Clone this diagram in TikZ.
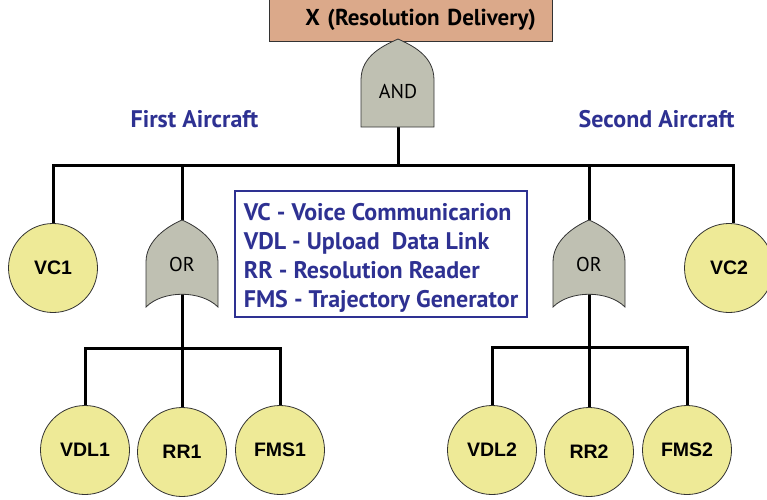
\documentclass[tikz,border=0pt]{standalone}
\usepackage{fontspec}
\setmainfont{PT Sans}
\newfontfamily\arialfont{Liberation Sans}
\definecolor{topfill}{HTML}{DBA98A}
\definecolor{gatefill}{HTML}{BFC0B2}
\definecolor{eventfill}{HTML}{EEEA97}
\definecolor{legblue}{HTML}{2E3192}
\begin{document}
\begin{tikzpicture}[x=1pt,y=-1pt,
  conn/.style={line width=3pt, line join=miter},
  gate/.style={draw=black!80, line width=0.8pt, fill=gatefill},
  gatelabel/.style={inner sep=0pt, font=\fontsize{20}{22}\selectfont},
  event/.style={circle, draw=black!80, line width=0.8pt, fill=eventfill,
    minimum size=89pt, inner sep=0pt, font=\arialfont\bfseries\fontsize{19.5}{22}\selectfont},
  topbox/.style={draw=black!80, line width=0.8pt, fill=topfill, inner xsep=16pt,
    text width=251pt, align=right, minimum height=42pt, inner ysep=0pt,
    font=\bfseries\fontsize{23}{25}\selectfont},
  legendbox/.style={draw=legblue, line width=1.2pt, inner sep=0pt,
    minimum width=292pt, minimum height=126pt},
  legendtext/.style={text=legblue, inner sep=0pt, align=left,
    font=\bfseries\fontsize{24}{29}\selectfont},
  side/.style={text=legblue, inner sep=0pt, font=\bfseries\fontsize{24}{26}\selectfont}
]
\useasboundingbox (0,0) rectangle (767,499);

% top event
\node[topbox] (top) at (410.5,20) {X (Resolution Delivery)};

% side labels
\node[side] (first) at (194.5,119) {First Aircraft};
\node[side] (second) at (656.5,119) {Second Aircraft};

% legend
\node[legendbox] (leg) at (381,254) {};
\node[legendtext] (legtext) at ([yshift=-4pt]leg.center) {VC - Voice Communicarion\\VDL - Upload\ \ Data Link\\RR - Resolution Reader\\FMS - Trajectory Generator};

% basic events
\node[event] (vc1) at (53,268) {VC1};
\node[event] (vc2) at (729,268) {VC2};
\node[event] (vdl1) at (85,450) {VDL1};
\node[event] (rr1) at (182,452) {RR1};
\node[event] (fms1) at (280,450) {FMS1};
\node[event] (vdl2) at (492,450) {VDL2};
\node[event] (rr2) at (589,452) {RR2};
\node[event] (fms2) at (687,450) {FMS2};

% gate anchor coordinates
\coordinate (andout) at (398,39);
\coordinate (andin) at (398,127);
\coordinate (or1out) at (182,220);
\coordinate (or1in) at (182,294);
\coordinate (or2out) at (589,220);
\coordinate (or2in) at (589,294);
\coordinate (busL) at (53,165);
\coordinate (busR) at (733,165);
\coordinate (sub1) at (182,348);
\coordinate (sub2) at (589,347);

% connectors
\draw[conn] (vc1.north) -- (busL) -- (busR) -- (busR |- vc2.north);
\draw[conn] (andin) -- (andin |- busL);
\draw[conn] (or1out) -- (or1out |- busL);
\draw[conn] (or2out) -- (or2out |- busL);
\draw[conn] (or1in) -- (rr1.north);
\draw[conn] (or2in) -- (rr2.north);
\draw[conn] (vdl1.north) -- (vdl1.north |- sub1) -- (fms1.north |- sub1) -- (fms1.north);
\draw[conn] (vdl2.north) -- (vdl2.north |- sub2) -- (fms2.north |- sub2) -- (fms2.north);

% AND gate
\draw[gate] (361,127) -- (361,80) .. controls (361,55) and (385,45) .. (andout)
  .. controls (411,45) and (434,55) .. (434,80) -- (434,127) -- cycle;
\node[gatelabel] (and) at (398,91) {AND};

% OR gates
\draw[gate] (146,307) -- (146,262) .. controls (146,240) and (168,226) .. (or1out)
  .. controls (196,226) and (218,240) .. (218,262) -- (218,307)
  .. controls (201,290) and (163,290) .. cycle;
\node[gatelabel] (or1) at (182,264) {OR};
\draw[gate] (553,307) -- (553,262) .. controls (553,240) and (575,226) .. (or2out)
  .. controls (603,226) and (625,240) .. (625,262) -- (625,307)
  .. controls (608,290) and (570,290) .. cycle;
\node[gatelabel] (or2) at (589,264) {OR};
\end{tikzpicture}
\end{document}
